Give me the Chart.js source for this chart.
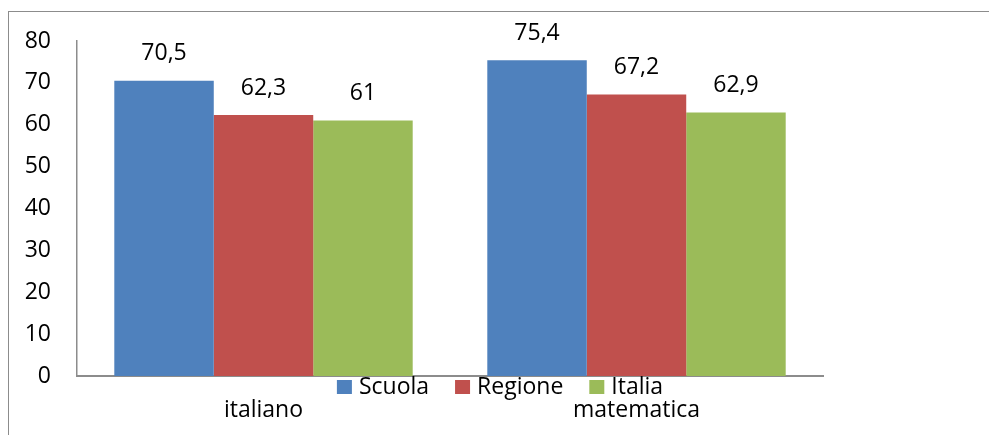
<!DOCTYPE html>
<html>
<head>
<meta charset="utf-8">
<script src="https://cdn.jsdelivr.net/npm/chart.js@4/dist/chart.umd.min.js"></script>
<style>
  html, body { margin: 0; padding: 0; background: #fff; }
  #wrap { position: relative; width: 989px; height: 435px; overflow: hidden; }
  #frame { position: absolute; left: 8px; top: 11px; right: -2px; bottom: -2px;
           border-top: 1px solid #8c8c8c; border-left: 1px solid #8c8c8c; pointer-events: none; }
  canvas { position: absolute; left: 0; top: 0; }
</style>
</head>
<body>
<div id="wrap">
  <canvas id="c" width="989" height="435"></canvas>
  <div id="frame"></div>
</div>
<script>
// Categories, series and axis ticks
const categories = ['italiano', 'matematica'];
const seriesNames = ['Scuola', 'Regione', 'Italia'];
const scuola = [70.5, 75.4];
const regione = [62.3, 67.2];
const italia = [61, 62.9];
const yTicks = [0, 10, 20, 30, 40, 50, 60, 70, 80];

const seriesColors = ['#4F81BD', '#C0504D', '#9BBB59'];
const FONT = "'Open Sans', 'Liberation Sans', sans-serif";
const FONT_SIZE = 23;
const AXIS_COLOR = '#8c8c8c';

const fmt = v => String(v).replace('.', ',');

// Value labels above each bar
const valueLabels = {
  id: 'valueLabels',
  afterDatasetsDraw(chart) {
    const ctx = chart.ctx;
    ctx.save();
    ctx.font = FONT_SIZE + 'px ' + FONT;
    ctx.fillStyle = '#000';
    ctx.textAlign = 'center';
    ctx.textBaseline = 'middle';
    chart.data.datasets.forEach((ds, i) => {
      chart.getDatasetMeta(i).data.forEach((bar, j) => {
        ctx.fillText(fmt(ds.data[j]), bar.x, bar.y - 27);
      });
    });
    ctx.restore();
  }
};

// Horizontal legend drawn across the category axis
const inlineLegend = {
  id: 'inlineLegend',
  afterDraw(chart) {
    const ctx = chart.ctx;
    const box = 15, gapBox = 7, gapItem = 26;
    const centerX = 500, centerY = 387;
    ctx.save();
    ctx.font = FONT_SIZE + 'px ' + FONT;
    ctx.textBaseline = 'middle';
    ctx.textAlign = 'left';
    const items = chart.data.datasets.map(ds => ({
      text: ds.label, color: ds.backgroundColor, w: ctx.measureText(ds.label).width
    }));
    const total = items.reduce((s, it) => s + box + gapBox + it.w, 0) + gapItem * (items.length - 1);
    let x = centerX - total / 2;
    items.forEach(it => {
      ctx.fillStyle = it.color;
      ctx.fillRect(x, centerY - 7, box, 14);
      x += box + gapBox;
      ctx.fillStyle = '#000';
      ctx.fillText(it.text, x, centerY);
      x += it.w + gapItem;
    });
    ctx.restore();
  }
};

const seriesValues = [scuola, regione, italia];

new Chart(document.getElementById('c'), {
  type: 'bar',
  data: {
    labels: categories,
    datasets: seriesNames.map((name, i) => ({
      label: name,
      data: seriesValues[i],
      backgroundColor: seriesColors[i],
      borderWidth: 0,
      categoryPercentage: 0.8,
      barPercentage: 1.0
    }))
  },
  options: {
    responsive: false,
    animation: false,
    devicePixelRatio: 1,
    layout: { padding: { left: 0, right: 166, top: 41, bottom: 0 } },
    plugins: {
      legend: { display: false },
      tooltip: { enabled: false }
    },
    scales: {
      x: {
        grid: { display: false, drawTicks: false },
        border: { display: true, color: AXIS_COLOR, width: 2 },
        ticks: { color: '#000', font: { family: FONT, size: FONT_SIZE }, padding: 21, maxRotation: 0 },
        afterFit(scale) { scale.height = 59; }
      },
      y: {
        min: yTicks[0],
        max: yTicks[yTicks.length - 1],
        grid: { display: false, drawTicks: false },
        border: { display: true, color: AXIS_COLOR, width: 1.5 },
        afterBuildTicks(scale) { scale.ticks = yTicks.map(v => ({ value: v })); },
        ticks: { color: '#000', font: { family: FONT, size: FONT_SIZE }, padding: 26 },
        afterFit(scale) { scale.width = 77; }
      }
    }
  },
  plugins: [valueLabels, inlineLegend]
});
</script>
</body>
</html>
